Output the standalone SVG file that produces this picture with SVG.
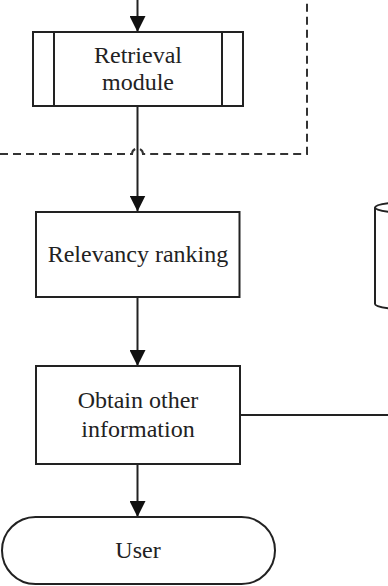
<svg xmlns="http://www.w3.org/2000/svg" width="388" height="586" viewBox="0 0 388 586">
<style>
.box{fill:#fff;stroke:#222;stroke-width:2}
.ln{fill:none;stroke:#222;stroke-width:2}
.dash{fill:none;stroke:#333;stroke-width:2;stroke-dasharray:8 5}
.t{font-family:"Liberation Serif","Times New Roman",serif;font-size:24px;fill:#222;text-anchor:middle}
</style>
<defs>
<marker id="arr" markerUnits="userSpaceOnUse" markerWidth="16" markerHeight="16" refX="16" refY="8" orient="auto">
<path d="M0,0 L16,8 L0,16 z" fill="#111"/>
</marker>
</defs>
<rect width="388" height="586" fill="#fff"/>
<g id="connectors">
<line class="ln" x1="137.5" y1="0" x2="137.5" y2="32" marker-end="url(#arr)"/>
<line class="ln" x1="137.5" y1="106" x2="137.5" y2="211.5" marker-end="url(#arr)"/>
<line class="ln" x1="137.5" y1="297" x2="137.5" y2="366" marker-end="url(#arr)"/>
<line class="ln" x1="137.5" y1="464" x2="137.5" y2="517" marker-end="url(#arr)"/>
<path class="dash" d="M0,154 H132 A5.5,5.5 0 0 1 143,154 H307 V0"/>
<line class="ln" x1="240" y1="415" x2="388" y2="415"/>
</g>
<g id="retrieval">
<rect class="box" x="33" y="32" width="210" height="74"/>
<line class="ln" x1="54" y1="32" x2="54" y2="106"/>
<line class="ln" x1="222" y1="32" x2="222" y2="106"/>
<text class="t" x="138" y="63">Retrieval</text>
<text class="t" x="138" y="90">module</text>
</g>
<g id="relevancy">
<rect class="box" x="36" y="212" width="203.5" height="85"/>
<text class="t" x="138" y="262">Relevancy ranking</text>
</g>
<g id="obtain">
<rect class="box" x="36" y="366" width="204" height="98"/>
<text class="t" x="138" y="408">Obtain other</text>
<text class="t" x="138" y="437">information</text>
</g>
<g id="user">
<rect class="box" x="2" y="517" width="273" height="67" rx="33.5" ry="33.5"/>
<text class="t" x="138" y="558">User</text>
</g>
<g id="store">
<path class="ln" d="M420,201.5 A45,6 0 0 0 375,207.5 A45,6 0 0 0 420,213.5"/>
<path class="ln" d="M375,207.5 V304 A45,6 0 0 0 420,310"/>
</g>
</svg>
